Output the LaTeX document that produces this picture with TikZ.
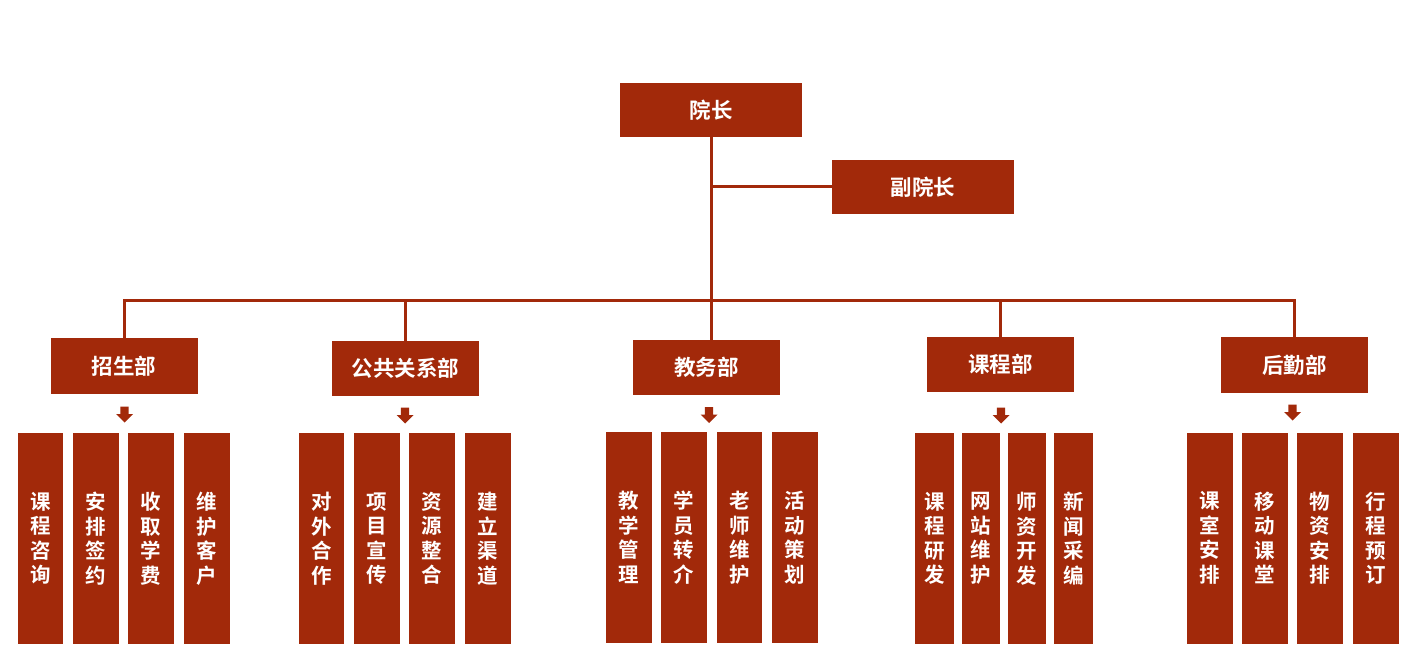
\documentclass[tikz,border=0pt]{standalone}
\usepackage{fontspec}
\newfontfamily\cjkb{Noto Sans CJK SC Bold}
\definecolor{brick}{RGB}{162,41,10}
\begin{document}
\begin{tikzpicture}[x=1pt,y=-1pt,
  box/.style={fill=brick,text=white,inner sep=0pt,font=\cjkb\fontsize{21.5}{24}\selectfont},
  topbox/.style={box,minimum width=182pt,minimum height=54pt},
  deptbox/.style={box,minimum width=147pt,minimum height=55pt},
  subbox/.style={box,minimum width=46pt,minimum height=211pt,align=center,font=\cjkb\fontsize{20.5}{24.5}\selectfont},
  narrow/.style={minimum width=38.5pt},
  link/.style={draw=brick,line width=3pt},
  pics/downarrow/.style={code={
    \fill[brick] (-4.2,0) -- (4.2,0) -- (4.2,7.5) -- (8.5,7.5) -- (0,16) -- (-8.5,7.5) -- (-4.2,7.5) -- cycle;}}
]
\useasboundingbox (0,0) rectangle (1425,668);

\node[topbox] (dean) at (711,110) {院长};
\node[topbox] (vice) at (923,187) {副院长};

\node[deptbox] (d1) at (124,366) {招生部};
\node[deptbox] (d2) at (405.5,368.5) {公共关系部};
\node[deptbox] (d3) at (706.5,367.5) {教务部};
\node[deptbox] (d4) at (1000.5,364.5) {课程部};
\node[deptbox] (d5) at (1294.5,365) {后勤部};

\coordinate (bus) at (711,301);

\draw[link] (dean.south) -- (dean.south |- d3.north);
\draw[link] (dean.south |- vice.west) -- (vice.west);
\draw[link] (d1.north) -- (d1.north |- bus) -- (d5.north |- bus) -- (d5.north);
\draw[link] (d2.north |- bus) -- (d2.north);
\draw[link] (d4.north |- bus) -- (d4.north);

\pic at (124.5,406.5) {downarrow};
\pic at (405,407.5) {downarrow};
\pic at (709,407) {downarrow};
\pic at (1001,407.5) {downarrow};
\pic at (1292.5,404.5) {downarrow};

% 招生部
\node[subbox,minimum width=45pt] (s11) at (40.5,538.5) {课\\程\\咨\\询};
\node[subbox] (s12) at (96,538.5) {安\\排\\签\\约};
\node[subbox] (s13) at (151,538.5) {收\\取\\学\\费};
\node[subbox] (s14) at (207,538.5) {维\\护\\客\\户};
% 公共关系部
\node[subbox,minimum width=45pt] (s21) at (321.5,538.5) {对\\外\\合\\作};
\node[subbox] (s22) at (377,538.5) {项\\目\\宣\\传};
\node[subbox] (s23) at (432,538.5) {资\\源\\整\\合};
\node[subbox] (s24) at (488,538.5) {建\\立\\渠\\道};
% 教务部
\node[subbox] (s31) at (629,537.5) {教\\学\\管\\理};
\node[subbox] (s32) at (684,537.5) {学\\员\\转\\介};
\node[subbox,minimum width=45pt] (s33) at (739.5,537.5) {老\\师\\维\\护};
\node[subbox] (s34) at (795,537.5) {活\\动\\策\\划};
% 课程部
\node[subbox,narrow] (s41) at (934.5,538.5) {课\\程\\研\\发};
\node[subbox,narrow] (s42) at (981,538.5) {网\\站\\维\\护};
\node[subbox,narrow] (s43) at (1027,538.5) {师\\资\\开\\发};
\node[subbox,narrow] (s44) at (1073.5,538.5) {新\\闻\\采\\编};
% 后勤部
\node[subbox] (s51) at (1210,538) {课\\室\\安\\排};
\node[subbox] (s52) at (1265,538) {移\\动\\课\\堂};
\node[subbox] (s53) at (1320,538) {物\\资\\安\\排};
\node[subbox] (s54) at (1376,538) {行\\程\\预\\订};
\end{tikzpicture}
\end{document}
